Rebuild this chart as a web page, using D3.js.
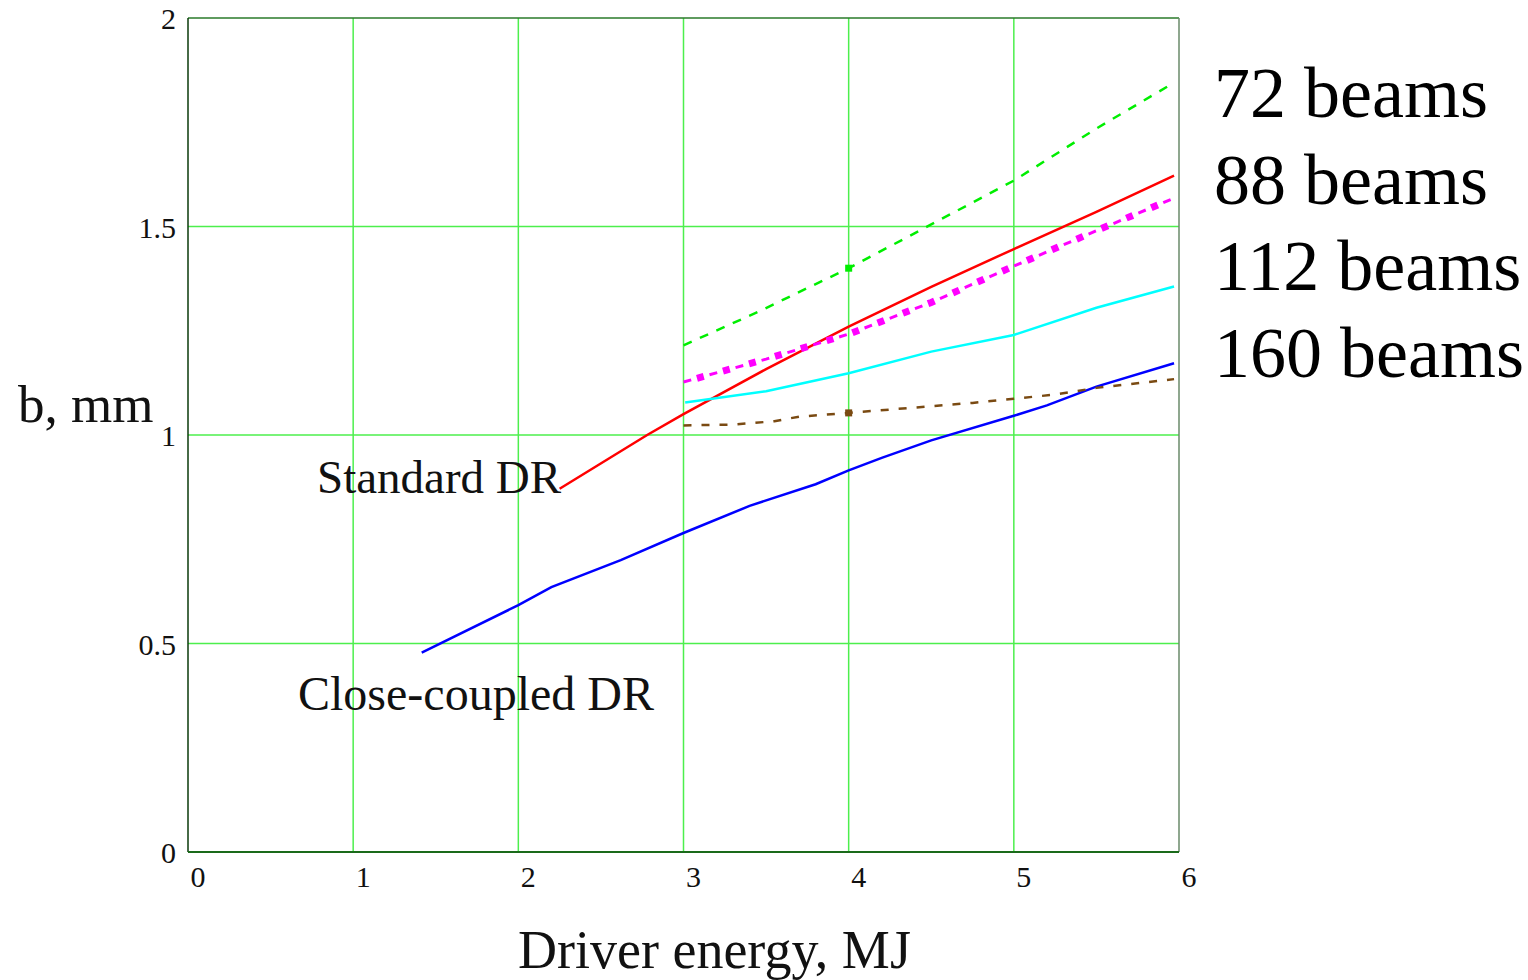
<!DOCTYPE html>
<html>
<head>
<meta charset="utf-8">
<script src="https://cdn.jsdelivr.net/npm/d3@7"></script>
<style>
  body { margin: 0; background: #fff; }
  svg { display: block; }
  svg text { font-family: "Liberation Serif", serif; }
</style>
</head>
<body>
<svg id="chart" width="1528" height="980"></svg>
<script>
// tick values
const xTicks = [0, 1, 2, 3, 4, 5, 6];
const yTicks = [0, 0.5, 1, 1.5, 2];
const yTickLabels = ["0", "0.5", "1", "1.5", "2"];

// series (driver energy MJ -> b, mm)
const beams72  = [[3, 1.215], [3.45, 1.295], [4, 1.40], [4.5, 1.505], [5, 1.61], [5.5, 1.735], [5.97, 1.845]];
const beams88  = [[3, 1.127], [3.5, 1.182], [4, 1.242], [4.5, 1.318], [5, 1.405], [5.5, 1.49], [5.97, 1.568]];
const beams112 = [[3.01, 1.078], [3.5, 1.105], [4, 1.148], [4.5, 1.20], [5, 1.24], [5.5, 1.305], [5.97, 1.356]];
const beams160 = [[3, 1.023], [3.3, 1.025], [3.55, 1.033], [3.7, 1.044], [4, 1.053], [4.5, 1.069], [4.75, 1.077], [5, 1.087], [5.25, 1.097], [5.5, 1.113], [5.97, 1.134]];
const standardDR = [[2.25, 0.871], [2.78, 1.0], [3, 1.05], [3.5, 1.158], [4, 1.26], [4.5, 1.355], [5, 1.446], [5.5, 1.535], [5.97, 1.622]];
const closeDR = [[1.415, 0.478], [2, 0.592], [2.2, 0.635], [2.62, 0.70], [3, 0.765], [3.4, 0.83], [3.8, 0.882], [4, 0.915], [4.2, 0.945], [4.5, 0.987], [5, 1.046], [5.2, 1.071], [5.5, 1.116], [5.97, 1.172]];

const beamLabels = ["72 beams", "88 beams", "112 beams", "160 beams"];

const svg = d3.select("#chart");
const margin = {left: 188, top: 18, right: 349, bottom: 128};
const width = 1528 - margin.left - margin.right;
const height = 980 - margin.top - margin.bottom;

const x = d3.scaleLinear().domain([0, 6]).range([0, width]);
const y = d3.scaleLinear().domain([0, 2]).range([height, 0]);

const g = svg.append("g").attr("transform", `translate(${margin.left},${margin.top})`);

// grid
g.append("g").selectAll("line").data(xTicks.slice(1, -1)).enter().append("line")
  .attr("x1", d => x(d)).attr("x2", d => x(d)).attr("y1", 0).attr("y2", height)
  .attr("stroke", "#4def4d").attr("stroke-width", 1.5);
g.append("g").selectAll("line").data(yTicks.slice(1, -1)).enter().append("line")
  .attr("y1", d => y(d)).attr("y2", d => y(d)).attr("x1", 0).attr("x2", width)
  .attr("stroke", "#4def4d").attr("stroke-width", 1.5);

// frame
g.append("line").attr("x1", 0).attr("x2", width).attr("y1", 0).attr("y2", 0).attr("stroke", "#2a7a2a").attr("stroke-width", 1.5);
g.append("line").attr("x1", width).attr("x2", width).attr("y1", 0).attr("y2", height).attr("stroke", "#6a8a6a").attr("stroke-width", 1.5);
g.append("line").attr("x1", 0).attr("x2", 0).attr("y1", 0).attr("y2", height).attr("stroke", "#0a3a0a").attr("stroke-width", 1.5);
g.append("line").attr("x1", 0).attr("x2", width).attr("y1", height).attr("y2", height).attr("stroke", "#1a6a1a").attr("stroke-width", 2);

// axes (labels only)
const xAxis = g.append("g").attr("transform", `translate(0,${height})`)
  .call(d3.axisBottom(x).tickValues(xTicks).tickSize(0).tickFormat(d3.format("d")));
xAxis.attr("font-family", null);
xAxis.select(".domain").remove();
xAxis.selectAll("text").attr("text-anchor", "start").attr("x", 2).attr("dy", "1em").attr("y", 5)
  .style("font-size", "30px").attr("fill", "#111");

const yAxis = g.append("g")
  .call(d3.axisLeft(y).tickValues(yTicks).tickSize(0).tickFormat((d, i) => yTickLabels[i]));
yAxis.attr("font-family", null);
yAxis.select(".domain").remove();
yAxis.selectAll("text").attr("x", -12).attr("dy", "0.35em")
  .style("font-size", "30px").attr("fill", "#111");

const line = d3.line().x(d => x(d[0])).y(d => y(d[1]));

// series
g.append("path").datum(closeDR).attr("d", line).attr("fill", "none").attr("stroke", "#0000ff").attr("stroke-width", 2.5);
g.append("path").datum(standardDR).attr("d", line).attr("fill", "none").attr("stroke", "#ff0000").attr("stroke-width", 2.5);
g.append("path").datum(beams112).attr("d", line).attr("fill", "none").attr("stroke", "#00ffff").attr("stroke-width", 2.5);
g.append("path").datum(beams72).attr("d", line).attr("fill", "none").attr("stroke", "#00ee00").attr("stroke-width", 2.5)
  .attr("stroke-dasharray", "9,9");
g.append("path").datum(beams160).attr("d", line).attr("fill", "none").attr("stroke", "#7a4a12").attr("stroke-width", 2.5)
  .attr("stroke-dasharray", "8,10");
g.append("path").datum(beams88).attr("d", line).attr("fill", "none").attr("stroke", "#ff00ff").attr("stroke-width", 3)
  .attr("stroke-dasharray", "8,19");
g.append("path").datum(beams88).attr("d", line).attr("fill", "none").attr("stroke", "#ff00ff").attr("stroke-width", 7)
  .attr("stroke-dasharray", "7,20").attr("stroke-dashoffset", -14);

// markers at 4 MJ
[[beams72, "#00ee00"], [beams160, "#7a4a12"]].forEach(([s, c]) => {
  const p = s.find(d => d[0] === 4);
  g.append("rect").attr("x", x(p[0]) - 3.5).attr("y", y(p[1]) - 3.5).attr("width", 7).attr("height", 7).attr("fill", c);
});

// annotations
svg.append("text").attr("x", 317).attr("y", 493).text("Standard DR")
  .style("font-size", "47px").attr("fill", "#111");
svg.append("text").attr("x", 298).attr("y", 710).text("Close-coupled DR")
  .style("font-size", "48px").attr("fill", "#111");

svg.append("text").attr("x", 18).attr("y", 422).text("b, mm").style("font-size", "53px").attr("fill", "#111");
svg.append("text").attr("x", 518).attr("y", 968).text("Driver energy, MJ").style("font-size", "54px").attr("fill", "#111");

svg.append("g").selectAll("text").data(beamLabels).enter().append("text")
  .attr("x", 1214).attr("y", (d, i) => 117 + i * 86.5)
  .text(d => d).style("font-size", "72px").attr("fill", "#000");
</script>
</body>
</html>
